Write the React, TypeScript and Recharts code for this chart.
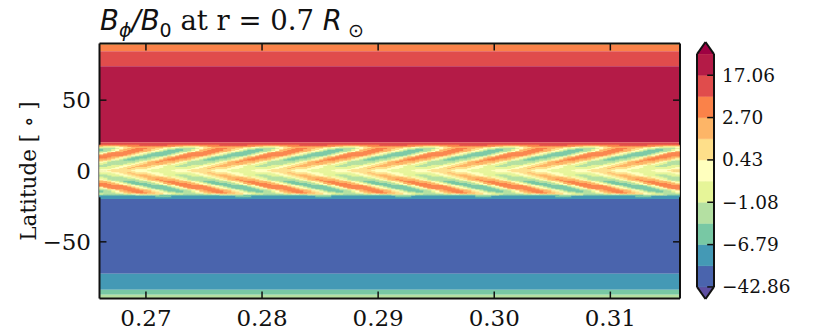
import React from "react";
import {
  Area,
  ComposedChart,
  ReferenceArea,
  ReferenceLine,
  Scatter,
  XAxis,
  YAxis,
} from "recharts";

const SERIF = "'DejaVu Serif', serif";
const SANS = "'DejaVu Sans', sans-serif";

// contour colours, lowest band first
const levelColors = [
  "#4a64ad", "#4499b5", "#78c8a4", "#b4e0a2", "#e6f598", "#ffffbe",
  "#fedf8a", "#fdb567", "#fa8249", "#e04c4c", "#b41b47",
];
const lowExtendColor = "#5e4fa2";
const highExtendColor = "#9e0142";

const xTicks = [0.27, 0.28, 0.29, 0.3, 0.31];
const yTicks = [-50, 0, 50];
const xDomain = [0.266, 0.316];
const tickLenX = 0.0006;
const tickLenLat = 4.9;

// flat zones outside the wave belt: [top lat, bottom lat, level]
const flatBands = [
  [90, 89, 7],
  [89, 84.5, 8],
  [84.5, 73.9, 9],
  [73.9, 20.25, 10],
  [20.25, 17.5, 9],
  [-17.5, -19.8, 1],
  [-19.8, -72.5, 0],
  [-72.5, -83.8, 1],
  [-83.8, -87.3, 2],
  [-87.3, -90, 3],
];

// wave belt, one row every 0.75 degrees from +18 down to -18
// one character per 4px column, index into levelColors
const beltLevels = [
  "8888888888999999988888888888889999999888888888888899999998888888888888999999988888888888889999999888888888888899999998888888888888999999988888888",
  "7666677888888888888776666778888888888887766667788888888888877666677888888888888776666778888888888887766667788888888888877666677888888888888776666",
  "4444556677777777665544445566777777776655444455667777777766554444556677777777665544445566777777776655444455667777777766554444556677777777665544445",
  "3333456778887766544333334567788877665443333345677888776654433333456778887766544333334567788877665443333345677888776654433333456778887766544333334",
  "2334567788877665433223345677888776654332233456778887766543322334567788877665433223345677888776654332233456778887766543322334567788877665433223345",
  "2334577888877654322223345778888776543222233457788887765432222334577888877654322223345778888776543222233457788887765432222334577888877654322223345",
  "3345778888776543222233457788887765432222334577888877654322223345778888776543222233457788887765432222334577888877654322223345778888776543222233457",
  "4578888887654322222345788888876543222223457888888765432222234578888887654322222345788888876543222223457888888765432222234578888887654322222345788",
  "5788888876543222223457888888765432222234578888887654322222345788888876543222223457888888765432222234578888887654322222345788888876543222223457888",
  "7888888765432222234578888887654322222345788888876543222223457888888765432222234578888887654322222345788888876543222223457888888765432222234578888",
  "8888887654322222345788888876543222223457888888765432222234578888887654322222345788888876543222223457888888765432222234578888887654322222345788888",
  "8887765432222334577888877654322223345778888776543222233457788887765432222334577888877654322223345778888776543222233457788887765432222334577888877",
  "8877654322223345778888776543222233457788887765432222334577888877654322223345778888776543222233457788887765432222334577888877654322223345778888776",
  "7776543222333456788877765432223334567888777654322233345678887776543222333456788877765432223334567888777654322233345678887776543222333456788877765",
  "7765432223334567888777654322233345678887776543222333456788877765432223334567888777654322233345678887776543222333456788877765432223334567888777654",
  "6543333333456778777765433333334567787777654333333345677877776543333333456778777765433333334567787777654333333345677877776543333333456778777765433",
  "5433333334567787777654333333345677877776543333333456778777765433333334567787777654333333345677877776543333333456778777765433333334567787777654333",
  "4433333445667777766544333334456677777665443333344566777776654433333445667777766544333334456677777665443333344566777776654433333445667777766544333",
  "4333334456677777665443333344566777776654433333445667777766544333334456677777665443333344566777776654433333445667777766544333334456677777665443333",
  "3334445566777665544433344455667776655444333444556677766554443334445566777665544433344455667776655444333444556677766554443334445566777665544433344",
  "3344455667776655444333444556677766554443334445566777665544433344455667776655444333444556677766554443334445566777665544433344455667776655444333444",
  "4444556676666555444444445566766665554444444455667666655544444444556676666555444444445566766665554444444455667666655544444444556676666555444444445",
  "4445566766665554444444455667666655544444444556676666555444444445566766665554444444455667666655544444444556676666555444444445566766665554444444455",
  "5556666665555444444555566666655554444445555666666555544444455556666665555444444555566666655554444445555666666555544444455556666665555444444555566",
  "5566666655554444445555666666555544444455556666665555444444555566666655554444445555666666555544444455556666665555444444555566666655554444445555666",
  "5556666665555444444555566666655554444445555666666555544444455556666665555444444555566666655554444445555666666555544444455556666665555444444555566",
  "4445566766665554444444455667666655544444444556676666555444444445566766665554444444455667666655544444444556676666555444444445566766665554444444455",
  "4444556676666555444444445566766665554444444455667666655544444444556676666555444444445566766665554444444455667666655544444444556676666555444444445",
  "3344455667776655444333444556677766554443334445566777665544433344455667776655444333444556677766554443334445566777665544433344455667776655444333444",
  "3334445566777665544433344455667776655444333444556677766554443334445566777665544433344455667776655444333444556677766554443334445566777665544433344",
  "4333334456677777665443333344566777776654433333445667777766544333334456677777665443333344566777776654433333445667777766544333334456677777665443333",
  "4433333445667777766544333334456677777665443333344566777776654433333445667777766544333334456677777665443333344566777776654433333445667777766544333",
  "5433333334567787777654333333345677877776543333333456778777765433333334567787777654333333345677877776543333333456778777765433333334567787777654333",
  "6543333333456778777765433333334567787777654333333345677877776543333333456778777765433333334567787777654333333345677877776543333333456778777765433",
  "7765432223334567888777654322233345678887776543222333456788877765432223334567888777654322233345678887776543222333456788877765432223334567888777654",
  "7776543222333456788877765432223334567888777654322233345678887776543222333456788877765432223334567888777654322233345678887776543222333456788877765",
  "8877654322223345778888776543222233457788887765432222334577888877654322223345778888776543222233457788887765432222334577888877654322223345778888776",
  "8887765432222334577888877654322223345778888776543222233457788887765432222334577888877654322223345778888776543222233457788887765432222334577888877",
  "8888887654322222345788888876543222223457888888765432222234578888887654322222345788888876543222223457888888765432222234578888887654322222345788888",
  "7888888765432222234578888887654322222345788888876543222223457888888765432222234578888887654322222345788888876543222223457888888765432222234578888",
  "5788888876543222223457888888765432222234578888887654322222345788888876543222223457888888765432222234578888887654322222345788888876543222223457888",
  "4578888887654322222345788888876543222223457888888765432222234578888887654322222345788888876543222223457888888765432222234578888887654322222345788",
  "3345778888776543222233457788887765432222334577888877654322223345778888776543222233457788887765432222334577888877654322223345778888776543222233457",
  "2334577888877654322223345778888776543222233457788887765432222334577888877654322223345778888776543222233457788887765432222334577888877654322223345",
  "2334567788877665433223345677888776654332233456778887766543322334567788877665433223345677888776654332233456778887766543322334567788877665433223345",
  "3333456778887766544333334567788877665443333345677888776654433333456778887766544333334567788877665443333345677888776654433333456778887766544333334",
  "4333334455666666554443333344556666665544433333445566666655444333334455666666554443333344556666665544433333445566666655444333334455666666554443333",
  "2222222223333332222222222222223333332222222222222222333333222222222222222333333222222222222222333333222222222222222333333222222222222222333333222",
  "1111111111111122221111111111111111222211111111111111112222111111111111111122221111111111111111222211111111111111112222111111111111111122221111111",
];

const cbarTicks = [0, 2, 4, 6, 8, 10];
const cbarLabels = ["\u221242.86", "\u22126.79", "\u22121.08", "0.43", "2.70", "17.06"];
const cbarEdges = [0, 1];
const cbarOutline = [
  [[0, 0], [0, 11]],
  [[1, 0], [1, 11]],
  [[0, 11], [0.5, 11.57]],
  [[1, 11], [0.5, 11.57]],
  [[0, 0], [0.5, -0.57]],
  [[1, 0], [0.5, -0.57]],
];

const cellData = beltLevels.flatMap((row, r) =>
  row.split("").map((ch, c) => ({
    x: xDomain[0] + ((c + 0.5) * 4) / 11610,
    lat: 18 - r * 0.75,
    level: Number(ch),
  })),
);

const CellShape = (props: any) => {
  const { cx, cy, payload } = props;
  return <rect x={cx - 2.25} y={cy - 0.8} width={4.5} height={1.6} fill={levelColors[payload.level]} />;
};

const BottomTick = ({ x, y, payload }: any) => (
  <text x={x} y={y + 27} textAnchor="middle" fontFamily={SERIF} fontSize={23} fill="#111">
    {payload.value.toFixed(2)}
  </text>
);

const LeftTick = ({ x, y, payload }: any) => (
  <text x={x - 8.5} y={y + 8} textAnchor="end" fontFamily={SERIF} fontSize={23} fill="#111">
    {payload.value < 0 ? `\u2212${-payload.value}` : payload.value}
  </text>
);

const NoTick = () => <g />;

const CbarTick = ({ x, y, payload }: any) => (
  <text x={x + 8} y={y + 6.5} fontFamily={SERIF} fontSize={18.5} fill="#111">
    {cbarLabels[cbarTicks.indexOf(payload.value)]}
  </text>
);

const cbarRows = [0, 0.5, 1].map((x) => {
  const row: any = { x };
  levelColors.forEach((_, i) => {
    row[`band${i}`] = [i, i + 1];
  });
  row.extLow = [0, x === 0.5 ? -0.57 : 0];
  row.extHigh = [11, x === 0.5 ? 11.57 : 11];
  return row;
});

const App = () => {
  return (
    <div style={{ position: "absolute", left: 0, top: 0, width: 830, height: 332, background: "#fff" }}>
      <div
        style={{
          position: "absolute",
          left: 100,
          top: 3,
          fontFamily: SERIF,
          fontSize: 27.5,
          lineHeight: "34px",
          color: "#111",
          whiteSpace: "nowrap",
        }}
      >
        <span style={{ fontFamily: SANS, fontStyle: "italic" }}>
          B<sub style={{ fontSize: 19, lineHeight: 0 }}>{"\u03d5"}</sub>/B
        </span>
        <sub style={{ fontFamily: SANS, fontSize: 19, lineHeight: 0 }}>0</sub>
        {" at r = 0.7 "}
        <span style={{ fontFamily: SANS, fontStyle: "italic" }}>R</span>
        <sub style={{ fontFamily: SANS, fontSize: 19, lineHeight: 0 }}>{" \u2299"}</sub>
      </div>

      <div style={{ position: "absolute", left: 0, top: 0 }}>
        <ComposedChart width={830} height={332} margin={{ top: 0, right: 149, bottom: 0, left: 0 }}>
          {flatBands.map(([y1, y2, level]) => (
            <ReferenceArea
              key={`${y1}-${y2}`}
              y1={y1}
              y2={y2}
              fill={levelColors[level]}
              fillOpacity={1}
              stroke="none"
            />
          ))}
          <Scatter data={cellData} shape={CellShape} isAnimationActive={false} />
          <XAxis
            type="number"
            dataKey="x"
            domain={xDomain}
            ticks={xTicks}
            interval={0}
            height={33.5}
            stroke="#111"
            strokeWidth={2}
            tickLine={false}
            tickSize={0}
            tickMargin={0}
            tick={BottomTick}
          />
          <XAxis
            xAxisId="top"
            orientation="top"
            type="number"
            domain={xDomain}
            ticks={xTicks}
            interval={0}
            height={43.5}
            stroke="#111"
            strokeWidth={2}
            tickLine={false}
            tickSize={0}
            tickMargin={0}
            tick={NoTick}
          />
          <YAxis
            type="number"
            dataKey="lat"
            domain={[-90, 90]}
            ticks={yTicks}
            interval={0}
            width={99.5}
            stroke="#111"
            strokeWidth={2}
            tickLine={false}
            tickSize={0}
            tickMargin={0}
            tick={LeftTick}
            label={{
              value: "Latitude [ \u2218 ]",
              angle: -90,
              position: "insideLeft",
              offset: 0,
              dx: 28,
              style: { fontFamily: SERIF, fontSize: 21.5, fill: "#111", textAnchor: "middle" },
            }}
          />
          <YAxis
            yAxisId="right"
            orientation="right"
            type="number"
            domain={[-90, 90]}
            ticks={yTicks}
            interval={0}
            width={1}
            stroke="#111"
            strokeWidth={2}
            tickLine={false}
            tickSize={0}
            tickMargin={0}
            tick={NoTick}
          />
          {xTicks.map((t) => (
            <ReferenceLine
              key={`b${t}`}
              segment={[{ x: t, y: -90 }, { x: t, y: -90 + tickLenLat }]}
              stroke="#111"
              strokeWidth={1.5}
            />
          ))}
          {xTicks.map((t) => (
            <ReferenceLine
              key={`t${t}`}
              segment={[{ x: t, y: 90 }, { x: t, y: 90 - tickLenLat }]}
              stroke="#111"
              strokeWidth={1.5}
            />
          ))}
          {yTicks.map((t) => (
            <ReferenceLine
              key={`l${t}`}
              segment={[{ x: xDomain[0], y: t }, { x: xDomain[0] + tickLenX, y: t }]}
              stroke="#111"
              strokeWidth={1.5}
            />
          ))}
          {yTicks.map((t) => (
            <ReferenceLine
              key={`r${t}`}
              segment={[{ x: xDomain[1], y: t }, { x: xDomain[1] - tickLenX, y: t }]}
              stroke="#111"
              strokeWidth={1.5}
            />
          ))}
        </ComposedChart>
      </div>

      <div style={{ position: "absolute", left: 0, top: 0 }}>
        <ComposedChart width={830} height={332} data={cbarRows} margin={{ top: 42, right: 115, bottom: 33, left: 697 }}>
          <XAxis type="number" dataKey="x" domain={cbarEdges} hide height={0} />
          <YAxis
            orientation="right"
            type="number"
            domain={[-0.57, 11.57]}
            ticks={cbarTicks}
            interval={0}
            width={1}
            axisLine={false}
            tickLine={false}
            tickSize={0}
            tickMargin={0}
            tick={CbarTick}
          />
          <Area dataKey="extLow" type="linear" fill={lowExtendColor} fillOpacity={1} stroke="none" isAnimationActive={false} dot={false} activeDot={false} />
          {levelColors.map((color, i) => (
            <Area
              key={color}
              dataKey={`band${i}`}
              type="linear"
              fill={color}
              fillOpacity={1}
              stroke={color}
              strokeWidth={0.5}
              isAnimationActive={false}
              dot={false}
              activeDot={false}
            />
          ))}
          <Area dataKey="extHigh" type="linear" fill={highExtendColor} fillOpacity={1} stroke="none" isAnimationActive={false} dot={false} activeDot={false} />
          {cbarOutline.map(([a, b], i) => (
            <ReferenceLine
              key={i}
              segment={[
                { x: a[0], y: a[1] },
                { x: b[0], y: b[1] },
              ]}
              stroke="#111"
              strokeWidth={2}
            />
          ))}
          {cbarTicks.map((t) => (
            <ReferenceLine
              key={`c${t}`}
              segment={[{ x: 0.6, y: t }, { x: 1, y: t }]}
              stroke="#111"
              strokeWidth={1.5}
            />
          ))}
        </ComposedChart>
      </div>
    </div>
  );
};

export default App;
